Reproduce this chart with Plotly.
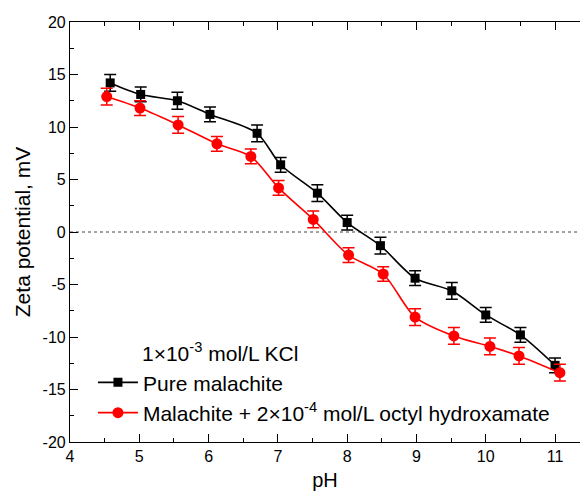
import plotly.graph_objects as go

# pH values and zeta potentials
ph_pure = [4.58, 5.02, 5.55, 6.02, 6.70, 7.04, 7.57, 8.00, 8.48, 8.98, 9.51, 10.00, 10.50, 11.00]
zeta_pure = [14.2, 13.1, 12.5, 11.2, 9.4, 6.4, 3.7, 0.9, -1.3, -4.4, -5.6, -7.9, -9.8, -12.7]
err_pure = [0.8, 0.7, 0.8, 0.7, 0.8, 0.7, 0.8, 0.7, 0.8, 0.7, 0.8, 0.7, 0.7, 0.7]

ph_oha = [4.53, 5.01, 5.56, 6.12, 6.61, 7.01, 7.51, 8.02, 8.52, 8.98, 9.54, 10.06, 10.48, 11.07]
zeta_oha = [12.9, 11.8, 10.2, 8.4, 7.2, 4.2, 1.2, -2.2, -4.0, -8.1, -9.9, -10.9, -11.8, -13.4]
err_oha = [0.8, 0.7, 0.8, 0.7, 0.7, 0.7, 0.8, 0.7, 0.7, 0.8, 0.8, 0.8, 0.8, 0.8]

x_ticks = [4, 5, 6, 7, 8, 9, 10, 11]
y_ticks = [-20, -15, -10, -5, 0, 5, 10, 15, 20]
y_ticklabels = ["-20", "-15", "-10", "-5", "0", "5", "10", "15", "20"]

font = "Liberation Sans, Arial, sans-serif"

fig = go.Figure()

fig.add_trace(go.Scatter(
    x=ph_pure, y=zeta_pure,
    mode="lines+markers",
    name="Pure malachite",
    line=dict(color="black", width=1.6, shape="spline", smoothing=0.8),
    marker=dict(symbol="square", size=9, color="black"),
    error_y=dict(type="data", array=err_pure, color="black", thickness=1.5, width=6),
))

fig.add_trace(go.Scatter(
    x=ph_oha, y=zeta_oha,
    mode="lines+markers",
    name="Malachite + 2×10<sup>-4</sup> mol/L octyl hydroxamate",
    line=dict(color="#ff0000", width=1.6, shape="spline", smoothing=0.8),
    marker=dict(symbol="circle", size=11, color="#ff0000"),
    error_y=dict(type="data", array=err_oha, color="#ff0000", thickness=1.5, width=6),
))

# dashed zero line
fig.add_shape(type="line", xref="paper", yref="y", x0=0, x1=1, y0=0, y1=0,
              line=dict(color="#444444", width=1, dash="3px,3px"), layer="below")

fig.add_annotation(
    text="1×10<sup>-3</sup> mol/L KCl",
    xref="paper", yref="paper", x=0.137, y=0.214,
    xanchor="left", yanchor="middle", showarrow=False,
    font=dict(family=font, size=21, color="black"),
)

fig.update_layout(
    width=580, height=491,
    margin=dict(l=70, r=0, t=22, b=49),
    plot_bgcolor="white", paper_bgcolor="white",
    font=dict(family=font, size=16, color="black"),
    showlegend=True,
    legend=dict(
        x=0.045, y=0.19, xanchor="left", yanchor="top",
        bgcolor="rgba(0,0,0,0)", font=dict(family=font, size=21),
        tracegroupgap=0, itemwidth=40,
    ),
    xaxis=dict(
        range=[4, 11.36], tickmode="array", tickvals=x_ticks,
        ticks="inside", ticklen=8, tickwidth=1, tickcolor="black",
        showline=True, linecolor="black", linewidth=1.2, mirror="allticks",
        showgrid=False, zeroline=False,
        minor=dict(ticks="inside", ticklen=4, tickcolor="black", dtick=0.5, tick0=4),
        title=dict(text="pH", font=dict(size=20), standoff=8),
    ),
    yaxis=dict(
        range=[-20, 20], tickmode="array", tickvals=y_ticks, ticktext=y_ticklabels,
        ticks="inside", ticklen=8, tickwidth=1, tickcolor="black",
        showline=True, linecolor="black", linewidth=1.2,
        showgrid=False, zeroline=False,
        minor=dict(ticks="inside", ticklen=4, tickcolor="black", dtick=2.5, tick0=0),
        title=dict(text="Zeta potential, mV", font=dict(size=21), standoff=6),
    ),
)

fig.write_html("out.html", config={"displayModeBar": False},
               post_script="document.body.style.margin='0px';")
